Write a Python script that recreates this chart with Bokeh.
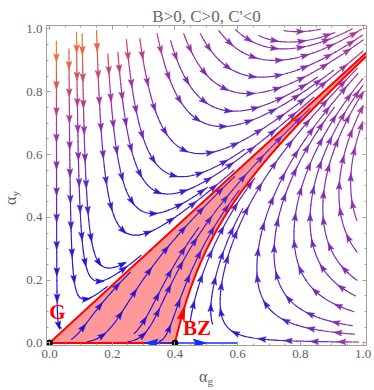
import math
from bokeh.plotting import figure
from bokeh.models import Range1d, LinearAxis, FixedTicker, Label, NumeralTickFormatter, Div
from bokeh.layouts import column, row
from bokeh.embed import file_html
from bokeh.resources import INLINE

# ---- beta-function coefficients of the flow (B>0, C>0, C'=C-D*F/E<0) ----
B, C, D, E, F = 0.4, 1.0, 1.1, 1.2, 1.504

title_text = "B>0, C>0, C'<0"
x_label = ("α", "g")
y_label = ("α", "y")
major_ticks = [0.0, 0.2, 0.4, 0.6, 0.8, 1.0]
minor_ticks = [0.05, 0.1, 0.15, 0.25, 0.3, 0.35, 0.45, 0.5, 0.55, 0.65, 0.7, 0.75, 0.85, 0.9, 0.95]

# fixed points and their labels
fixed_x = [0.0, 0.4]
fixed_y = [0.0, 0.0]
fixed_names = ["G", "BZ"]
name_x = [0.025, 0.47]
name_y = [0.098, 0.048]

# streamline start points
seed_top_x = [0.022, 0.062, 0.086, 0.104, 0.150, 0.186, 0.218, 0.245, 0.288, 0.343, 0.386,
              0.428, 0.481, 0.540, 0.593, 0.667, 0.747]
seed_top_y = [0.961, 0.937, 0.990, 0.985, 0.995, 0.921, 0.926, 0.966, 0.969, 0.985, 0.963,
              0.985, 0.985, 0.995, 0.998, 0.979, 0.995]
seed_right_x = [0.985, 0.972, 0.965, 0.970, 0.975, 0.980, 0.980, 0.980]
seed_right_y = [0.003, 0.028, 0.055, 0.100, 0.150, 0.200, 0.290, 0.390]
seed_low_x = [0.449, 0.520, 0.120, 0.070, 0.170, 0.250, 0.270, 0.350]
seed_low_y = [0.070, 0.060, 0.004, 0.012, 0.020, 0.004, 0.030, 0.005]

# speed -> colour scale
speed_stops = [0.0, 0.1, 0.25, 0.42, 0.58, 0.75, 0.92, 1.12]
speed_colors = ["#2010d8", "#3a1ccc", "#6a28bc", "#8c30b0", "#b03c90", "#d44c62", "#ec6a3a", "#f7931e"]

# highlighted flow out of BZ along the axis
bz_flow_x = [0.30, 0.60]
bz_flow_arrow_x = [0.33, 0.475]
bz_flow_arrow_dir = [-1.0, 1.0]
bz_sep_arrow_y = 0.09


def beta(x, y):
    return x * x * (B - C * x + D * y), y * (F * x - E * y)


def unit(x, y):
    u, v = beta(x, y)
    n = math.hypot(u, v)
    if n < 1e-14:
        return 0.0, 0.0, 0.0
    return u / n, v / n, n


def rk4(x, y, h):
    k1 = unit(x, y)
    k2 = unit(x + 0.5 * h * k1[0], y + 0.5 * h * k1[1])
    k3 = unit(x + 0.5 * h * k2[0], y + 0.5 * h * k2[1])
    k4 = unit(x + h * k3[0], y + h * k3[1])
    return (x + h * (k1[0] + 2 * k2[0] + 2 * k3[0] + k4[0]) / 6.0,
            y + h * (k1[1] + 2 * k2[1] + 2 * k3[1] + k4[1]) / 6.0, k1[2])


CELL = 0.02
grid = {}


def add_points(xs, ys, kind):
    for x, y in zip(xs, ys):
        key = (int(math.floor(x / CELL)), int(math.floor(y / CELL)))
        grid.setdefault(key, []).append((x, y, kind))


def near(x, y, d_line, d_sep):
    i, j = int(math.floor(x / CELL)), int(math.floor(y / CELL))
    for di in (-1, 0, 1):
        for dj in (-1, 0, 1):
            for px, py, kind in grid.get((i + di, j + dj), []):
                d = d_sep if kind else d_line
                if (px - x) ** 2 + (py - y) ** 2 < d * d:
                    return True
    return False


def trace(x0, y0, h=0.003, smax=2.5, d_line=0.013, d_sep=0.008, use_grid=True, lo=0.0, hi=1.0):
    xs, ys = [x0], [y0]
    x, y, s = x0, y0, 0.0
    while s < smax:
        nx, ny, sp = rk4(x, y, h)
        if sp < 1e-12:
            break
        if nx < lo or nx > hi or ny < lo or ny > hi:
            break
        if use_grid and near(nx, ny, d_line, d_sep):
            break
        x, y = nx, ny
        xs.append(x)
        ys.append(y)
        s += h
    return xs, ys


# separatrix from G
gx, gy = trace(0.002, 0.002 * (F - B) / E, h=0.002, use_grid=False, hi=1.01)
gx, gy = [0.0] + gx, [0.0] + gy
# separatrix from BZ (unstable eigen-direction)
xs_bz = B / C
s0 = (F * xs_bz + C * xs_bz ** 2) / (D * xs_bz ** 2)
bx, by = trace(xs_bz + 0.0005, 0.0005 * s0, h=0.002, use_grid=False, hi=1.01)
bx, by = [xs_bz] + bx, [0.0] + by
add_points(gx, gy, 1)
add_points(bx, by, 1)


def hex_to_rgb(c):
    return tuple(int(c[k:k + 2], 16) for k in (1, 3, 5))


def color_of(sp):
    if sp <= speed_stops[0]:
        return speed_colors[0]
    for k in range(len(speed_stops) - 1):
        if sp <= speed_stops[k + 1]:
            t = (sp - speed_stops[k]) / (speed_stops[k + 1] - speed_stops[k])
            a, b = hex_to_rgb(speed_colors[k]), hex_to_rgb(speed_colors[k + 1])
            t = round(t * 6) / 6.0
            return "#%02x%02x%02x" % tuple(int(round(a[m] + (b[m] - a[m]) * t)) for m in range(3))
    return speed_colors[-1]


def arrow_poly(x, y, dx, dy, L, W):
    nx, ny = -dy, dx
    tipx, tipy = x + dx * 0.6 * L, y + dy * 0.6 * L
    bkx, bky = x - dx * 0.4 * L, y - dy * 0.4 * L
    nox, noy = x - dx * 0.22 * L, y - dy * 0.22 * L
    return ([tipx, bkx + nx * W / 2, nox, bkx - nx * W / 2],
            [tipy, bky + ny * W / 2, noy, bky - ny * W / 2])


line_xs, line_ys, line_cols = [], [], []
arr_xs, arr_ys, arr_cols = [], [], []
seeds = (list(zip(seed_top_x, seed_top_y)) + list(zip(seed_right_x, seed_right_y)) +
         list(zip(seed_low_x, seed_low_y)))
ARROW_L, ARROW_W = 0.027, 0.018
for sx, sy in seeds:
    if near(sx, sy, 0.008, 0.005):
        continue
    xs, ys = trace(sx, sy)
    if len(xs) < 4:
        continue
    add_points(xs, ys, 0)
    px, py = xs[::2], ys[::2]
    if px[-1] != xs[-1]:
        px.append(xs[-1])
        py.append(ys[-1])
    cols = []
    for k in range(len(px) - 1):
        u, v = beta(0.5 * (px[k] + px[k + 1]), 0.5 * (py[k] + py[k + 1]))
        cols.append(color_of(math.hypot(u, v)))
    start = 0
    for k in range(1, len(cols) + 1):
        if k == len(cols) or cols[k] != cols[start]:
            line_xs.append(px[start:k + 1])
            line_ys.append(py[start:k + 1])
            line_cols.append(cols[start])
            start = k
    # arrowheads along the line
    acc = 0.0
    nxt = 0.05
    for k in range(1, len(xs)):
        acc += math.hypot(xs[k] - xs[k - 1], ys[k] - ys[k - 1])
        if acc >= nxt and acc < (len(xs) - 1) * 0.003 - 0.01:
            dx, dy, sp = unit(xs[k], ys[k])
            ax, ay = arrow_poly(xs[k], ys[k], dx, dy, ARROW_L, ARROW_W)
            arr_xs.append(ax)
            arr_ys.append(ay)
            u, v = beta(xs[k], ys[k])
            arr_cols.append(color_of(math.hypot(u, v)))
            nxt += 0.085

YLAB_W = 20
PLOT_H = 365
p = figure(width=372 - YLAB_W, height=PLOT_H, x_range=Range1d(-0.0096, 1.0105),
           y_range=Range1d(-0.008, 1.011), output_backend="svg", toolbar_location=None,
           min_border_left=46 - YLAB_W, min_border_right=6, min_border_top=25, min_border_bottom=20,
           margin=0)
p.title.text = title_text
p.title.align = "center"
p.title.text_font = "Liberation Serif"
p.title.text_font_size = "17px"
p.title.text_font_style = "normal"
p.title.text_color = "#666666"
p.title.standoff = 0
p.title.offset = 0
p.xgrid.visible = False
p.ygrid.visible = False
p.outline_line_color = "#a0a0a0"
p.add_layout(LinearAxis(), "above")
p.add_layout(LinearAxis(), "right")
for ax in p.axis:
    ax.ticker = FixedTicker(ticks=major_ticks, minor_ticks=minor_ticks)
    ax.formatter = NumeralTickFormatter(format="0.0")
    ax.axis_line_color = "#a0a0a0"
    ax.major_tick_line_color = "#a0a0a0"
    ax.minor_tick_line_color = "#a0a0a0"
    ax.major_tick_in = 4
    ax.major_tick_out = 0
    ax.minor_tick_in = 2
    ax.minor_tick_out = 0
    ax.major_label_text_font = "Liberation Serif"
    ax.major_label_text_font_size = "13px"
    ax.major_label_text_color = "#606060"
    ax.major_label_standoff = 4
for ax in p.above + p.right:
    ax.major_label_text_color = None
    ax.major_label_standoff = 0

# basin shaded in red
poly_x = gx + bx[::-1]
poly_y = gy + by[::-1]
p.patch(poly_x, poly_y, fill_color="red", fill_alpha=0.4, line_color=None)

p.multi_line(line_xs, line_ys, line_color=line_cols, line_width=1.2, line_cap="round")
p.patches(arr_xs, arr_ys, fill_color=arr_cols, line_color=arr_cols, line_width=0.5)

# separatrices
p.line(gx, gy, line_color="red", line_width=2)
p.line(bx, by, line_color="red", line_width=2)
p.line([fixed_x[0], fixed_x[1]], [fixed_y[0], fixed_y[1]], line_color="red", line_width=2)

# red arrow on BZ separatrix
for k in range(1, len(by)):
    if by[k] >= bz_sep_arrow_y:
        dx, dy, sp = unit(bx[k], by[k])
        ax_, ay_ = arrow_poly(bx[k], by[k], dx, dy, 0.045, 0.022)
        p.patch(ax_, ay_, fill_color="red", line_color="red")
        break

# blue flow along axis out of BZ
p.line(bz_flow_x, [0.0, 0.0], line_color="#1030ff", line_width=1.6)
for axx, d in zip(bz_flow_arrow_x, bz_flow_arrow_dir):
    ax_, ay_ = arrow_poly(axx, 0.0, d, 0.0, 0.04, 0.024)
    p.patch(ax_, ay_, fill_color="#1030ff", line_color="#1030ff")

p.scatter(fixed_x, fixed_y, size=6, color="black")

for nm, lx, ly in zip(fixed_names, name_x, name_y):
    p.add_layout(Label(x=lx, y=ly, text=nm, text_color="red", text_font="Liberation Serif",
                       text_font_style="bold", text_font_size="21px", text_align="center",
                       text_baseline="middle"))

font_css = "font-family:'Liberation Serif',serif;color:#606060;"
sub_css = "font-size:11px;vertical-align:-3px;"
xdiv = Div(width=372, height=25, margin=0, text=(
    '<div style="position:relative;width:372px;height:25px;' + font_css + '">'
    '<span style="position:absolute;left:199px;top:3px;font-size:16px;line-height:18px;white-space:nowrap;">'
    + x_label[0] + '<span style="' + sub_css + '">' + x_label[1] + '</span></span></div>'))
ydiv = Div(width=YLAB_W, height=PLOT_H, margin=0, text=(
    '<div style="position:relative;width:' + str(YLAB_W) + 'px;height:' + str(PLOT_H) + 'px;' + font_css + '">'
    '<span style="position:absolute;left:2px;top:205px;font-size:16px;line-height:18px;white-space:nowrap;'
    'transform:rotate(-90deg);transform-origin:left top;">'
    + y_label[0] + '<span style="' + sub_css + '">' + y_label[1] + '</span></span></div>'))

layout = column(row(ydiv, p, spacing=0, margin=0), xdiv, spacing=0, margin=0)
open("out.html", "w").write(file_html(layout, INLINE))
